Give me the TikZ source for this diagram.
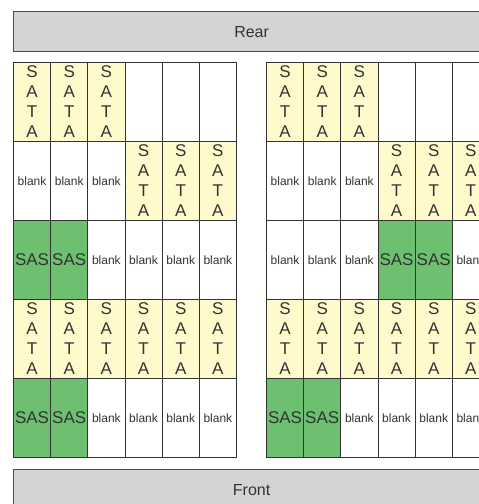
\documentclass[tikz,border=0pt]{standalone}
\usepackage{fontspec}
\setmainfont{Liberation Sans}
\usepackage{xcolor}
\definecolor{satafill}{HTML}{FFFACC}
\definecolor{sasfill}{HTML}{6CC070}
\definecolor{bargrey}{HTML}{D3D4D6}
\definecolor{ink}{HTML}{333333}

\tikzset{
  bay/.style={draw=ink, line width=0.9pt, anchor=north west, inner sep=0pt,
    minimum width=37.17pt, minimum height=79pt, text=ink, align=center},
  sata/.style={bay, fill=satafill, font=\fontsize{17}{20}\selectfont},
  sas/.style={bay, fill=sasfill, font=\fontsize{17}{20}\selectfont},
  blank/.style={bay, fill=white, font=\fontsize{12}{14}\selectfont},
  nodrive/.style={bay, fill=white},
  bar/.style={draw=black!70, line width=1.2pt, fill=bargrey, anchor=north west,
    minimum width=476pt, minimum height=40pt, text=ink, font=\fontsize{16}{19}\selectfont}
}

% slot labels, looked up by slot type
\newcommand{\txtsata}{S\\A\\T\\A}
\newcommand{\txtsas}{SAS}
\newcommand{\txtblank}{blank}
\newcommand{\txtnodrive}{}

\begin{document}
\begin{tikzpicture}[x=1pt,y=-1pt]
  \path[use as bounding box] (0,0) rectangle (479,504);
  \clip (0,0) rectangle (479,504);

  \node[bar] (rear) at (13,11) {Rear};
  \node[bar] (front) at (13,469) {Front};

  % left cage
  \foreach \kind [count=\n from 0] in {sata,sata,sata,nodrive,nodrive,nodrive,blank,blank,blank,sata,sata,sata,sas,sas,blank,blank,blank,blank,sata,sata,sata,sata,sata,sata,sas,sas,blank,blank,blank,blank}{
    \pgfmathsetmacro\cx{13+mod(\n,6)*37.17}
    \pgfmathsetmacro\cy{62+int(\n/6)*79}
    \node[\kind] (L-\n) at (\cx,\cy) {\csname txt\kind\endcsname};
  }
  % right cage
  \foreach \kind [count=\n from 0] in {sata,sata,sata,nodrive,nodrive,nodrive,blank,blank,blank,sata,sata,sata,blank,blank,blank,sas,sas,blank,sata,sata,sata,sata,sata,sata,sas,sas,blank,blank,blank,blank}{
    \pgfmathsetmacro\cx{266+mod(\n,6)*37.17}
    \pgfmathsetmacro\cy{62+int(\n/6)*79}
    \node[\kind] (R-\n) at (\cx,\cy) {\csname txt\kind\endcsname};
  }
\end{tikzpicture}
\end{document}
